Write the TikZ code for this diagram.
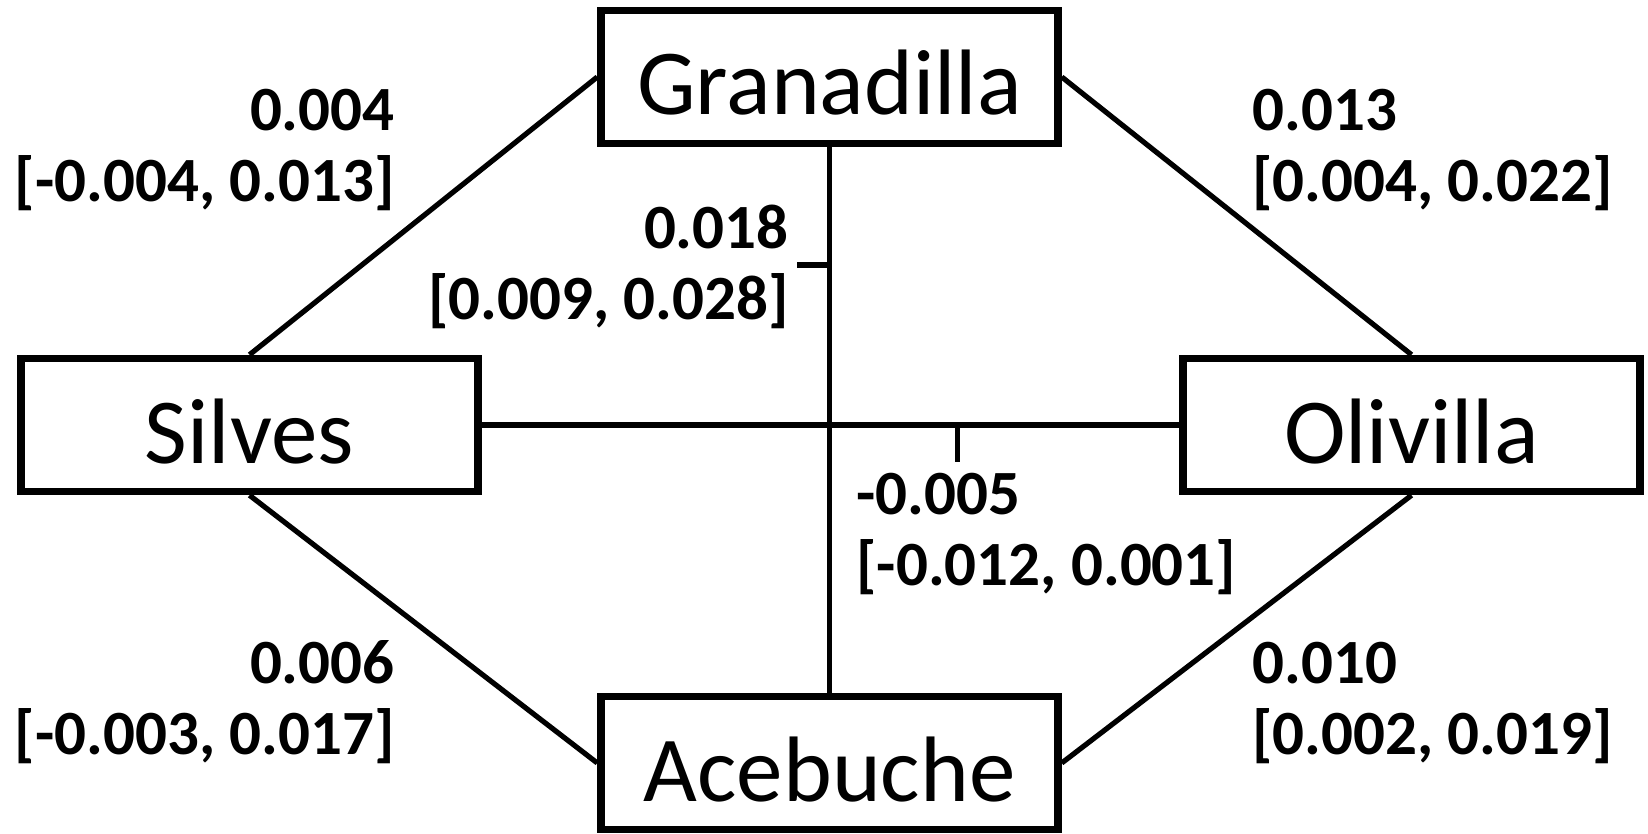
\documentclass[tikz,border=0pt]{standalone}
\usepackage{fontspec}
\setmainfont{Carlito}
\begin{document}
\begin{tikzpicture}[x=0.5pt, y=-0.5pt,
  site/.style={draw, line width=3.75pt, rectangle, inner sep=0pt,
    minimum width=228.5pt, minimum height=66.5pt,
    text height=38pt, text depth=0pt,
    font=\fontsize{46.5}{50}\selectfont},
  link/.style={line width=2.6pt},
  est/.style={inner sep=0pt, font=\bfseries\fontsize{31.5}{35.5}\selectfont},
  estL/.style={est, align=right, anchor=base east},
  estR/.style={est, align=left, anchor=base west}]
\useasboundingbox (0,0) rectangle (1648,834);

% populations
\node[site] (GR) at (829.5,77)  {Granadilla};
\node[site] (SI) at (249.5,425) {Silves};
\node[site] (OL) at (1411.5,425) {Olivilla};
\node[site] (AC) at (829.5,763) {Acebuche};

% pairwise links
\draw[link] (SI.north) -- (GR.west);
\draw[link] (GR.east) -- (OL.north);
\draw[link] (SI.south) -- (AC.west);
\draw[link] (OL.south) -- (AC.east);
\draw[link] (GR.south) -- coordinate[pos=0.216] (tv) (AC.north);
\draw[link] (SI.east) -- coordinate[pos=0.6815] (th) (OL.west);

% leaders to the labels of the crossing links
\draw[link] (tv) -- ++(-33,0);
\draw[link] (th) -- ++(0,37);

% estimates with intervals (anchored on the baseline of the last line)
\node[estL] (lSG) at (395,202) {0.004\\{[}-0.004, 0.013]};
\node[estR] (lGO) at (1252,202) {0.013\\{[}0.004, 0.022]};
\node[estL] (lGA) at (789,319) {0.018\\{[}0.009, 0.028]};
\node[estR] (lSO) at (856,585) {-0.005\\{[}-0.012, 0.001]};
\node[estL] (lSA) at (395,754) {0.006\\{[}-0.003, 0.017]};
\node[estR] (lOA) at (1252,754) {0.010\\{[}0.002, 0.019]};
\end{tikzpicture}
\end{document}
